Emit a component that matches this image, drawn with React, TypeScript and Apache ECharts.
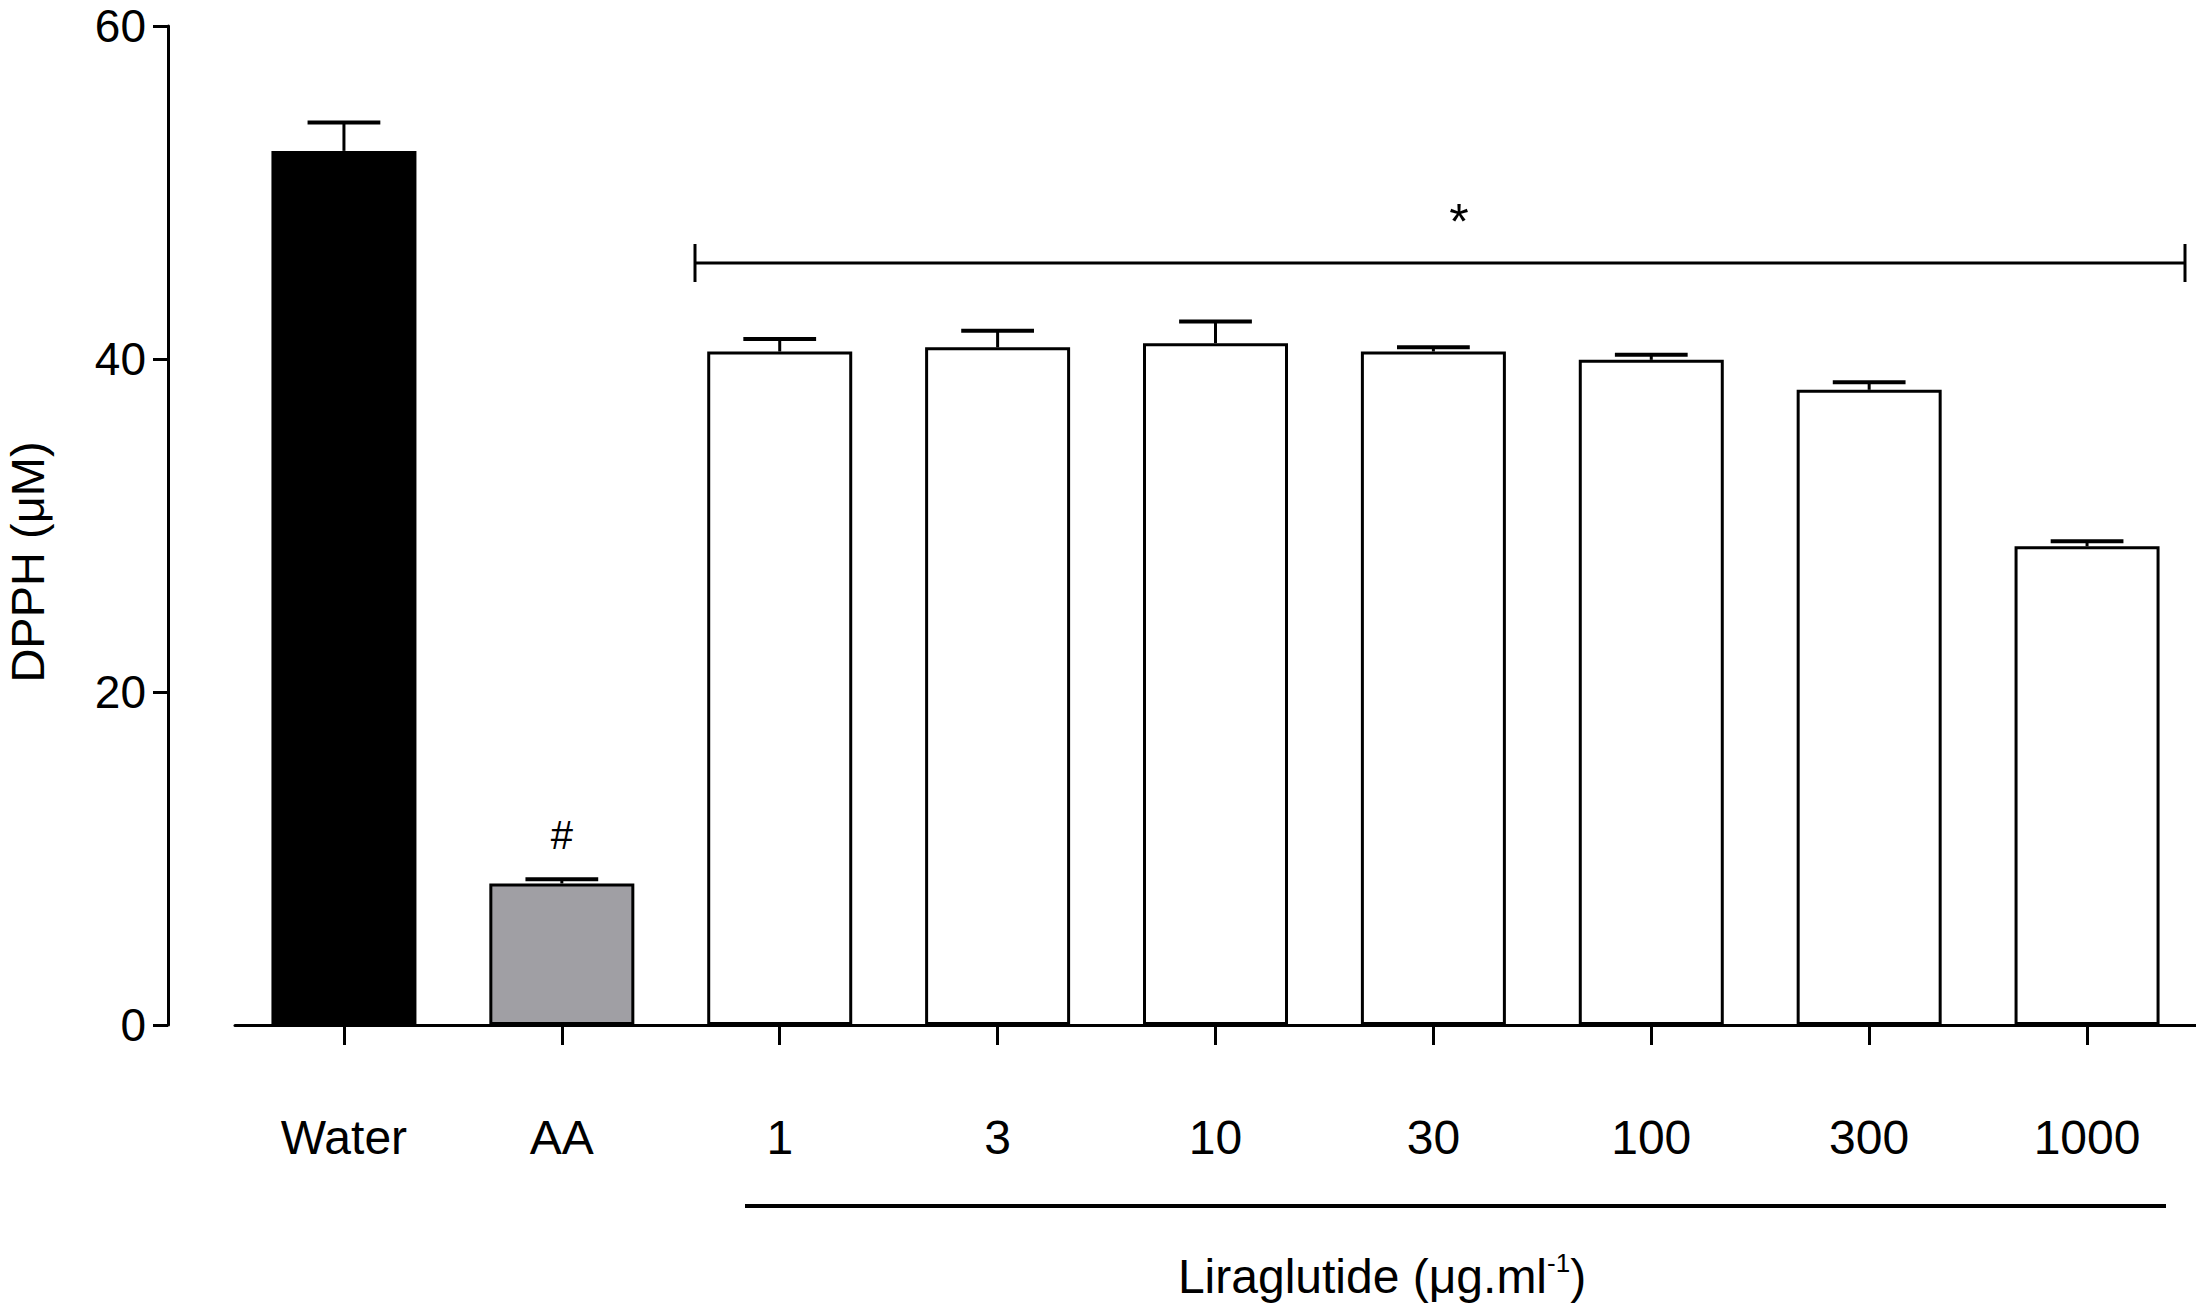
import React, { useEffect, useRef } from "react";
import * as echarts from "echarts";

const categories = ["Water", "AA", "1", "3", "10", "30", "100", "300", "1000"];
const means = [52.5, 8.5, 40.45, 40.7, 40.95, 40.45, 39.95, 38.15, 28.75];
const sems = [1.7, 0.25, 0.75, 1.0, 1.3, 0.25, 0.3, 0.45, 0.3];
const fills = ["#000000", "#a09fa4", "#ffffff", "#ffffff", "#ffffff", "#ffffff", "#ffffff", "#ffffff", "#ffffff"];
const barMarks = ["", "#", "", "", "", "", "", "", ""];
const yMin = 0;
const yMax = 60;
const yStep = 20;
const yTitle = "DPPH (μM)";
const groupTitleMain = "Liraglutide (μg.ml";
const groupTitleSup = "-1";
const sigMark = "*";

const FONT = "'Liberation Sans', Arial, Helvetica, sans-serif";

export default function App() {
  const ref = useRef<HTMLDivElement>(null);

  useEffect(() => {
    if (!ref.current) return;
    const chart = echarts.init(ref.current, null, { renderer: "svg" });

    const barData = means.map((m, i) => ({
      value: m,
      itemStyle: { color: fills[i], borderColor: "#000", borderWidth: 3 },
      label: barMarks[i]
        ? {
            show: true,
            position: "top",
            distance: 28,
            formatter: barMarks[i],
            fontSize: 40,
            color: "#000",
            fontFamily: FONT,
          }
        : { show: false },
    }));

    const errData = means.map((m, i) => [i, m, sems[i]]);

    const option: any = {
      animation: false,
      backgroundColor: "#ffffff",
      grid: { left: 235, right: -7, top: 26, bottom: 278 },
      xAxis: {
        type: "category",
        data: categories,
        offset: 63,
        axisLine: { show: true, lineStyle: { color: "#000", width: 3 } },
        axisTick: { show: true, alignWithLabel: true, length: 20, lineStyle: { color: "#000", width: 3 } },
        axisLabel: { fontSize: 48, color: "#000", margin: 25, fontFamily: FONT },
        splitLine: { show: false },
      },
      yAxis: {
        type: "value",
        min: yMin,
        max: yMax,
        interval: yStep,
        offset: 67,
        axisLine: { show: true, lineStyle: { color: "#000", width: 3 } },
        axisTick: { show: true, length: 15, lineStyle: { color: "#000", width: 3 } },
        axisLabel: { fontSize: 46, lineHeight: 40, color: "#000", margin: 22, fontFamily: FONT },
        splitLine: { show: false },
      },
      series: [
        {
          type: "bar",
          data: barData,
          barWidth: 145,
          z: 2,
        },
        {
          type: "custom",
          z: 3,
          data: errData,
          renderItem: (params: any, api: any) => {
            const i = api.value(0);
            const m = api.value(1);
            const s = api.value(2);
            const base = api.coord([i, m]);
            const top = api.coord([i, m + s]);
            const band = api.size([1, 0])[0];
            const half = band * 0.167;
            return {
              type: "group",
              children: [
                {
                  type: "line",
                  shape: { x1: top[0], y1: base[1], x2: top[0], y2: top[1] },
                  style: { stroke: "#000", lineWidth: 3 },
                },
                {
                  type: "line",
                  shape: { x1: top[0] - half, y1: top[1], x2: top[0] + half, y2: top[1] },
                  style: { stroke: "#000", lineWidth: 4 },
                },
              ],
            };
          },
        },
      ],
      graphic: [
        // y axis title
        {
          type: "text",
          x: 27,
          y: 562,
          rotation: Math.PI / 2,
          style: {
            text: yTitle,
            fontSize: 47,
            fontFamily: FONT,
            fill: "#000",
            textAlign: "center",
            textVerticalAlign: "middle",
          },
        },
        // significance bracket
        {
          type: "line",
          shape: { x1: 695, y1: 263, x2: 2185, y2: 263 },
          style: { stroke: "#000", lineWidth: 3 },
        },
        {
          type: "line",
          shape: { x1: 695, y1: 244, x2: 695, y2: 282 },
          style: { stroke: "#000", lineWidth: 3 },
        },
        {
          type: "line",
          shape: { x1: 2185, y1: 244, x2: 2185, y2: 282 },
          style: { stroke: "#000", lineWidth: 3 },
        },
        {
          type: "text",
          x: 1459,
          y: 222,
          style: {
            text: sigMark,
            fontSize: 50,
            fontFamily: FONT,
            fill: "#000",
            textAlign: "center",
            textVerticalAlign: "middle",
          },
        },
        // group line
        {
          type: "line",
          shape: { x1: 745, y1: 1206, x2: 2166, y2: 1206 },
          style: { stroke: "#000", lineWidth: 4 },
        },
        {
          type: "text",
          x: 1382,
          y: 1273,
          style: {
            text: `{a|${groupTitleMain}}{s|${groupTitleSup}}{a|)}`,
            textAlign: "center",
            textVerticalAlign: "middle",
            rich: {
              a: { fontSize: 48, fontFamily: FONT, fill: "#000", lineHeight: 54, verticalAlign: "bottom" },
              s: { fontSize: 26, fontFamily: FONT, fill: "#000", lineHeight: 54, verticalAlign: "top", padding: [4, 0, 0, 0] },
            },
          },
        },
      ],
    };

    chart.setOption(option);
    return () => chart.dispose();
  }, []);

  return (
    <div
      ref={ref}
      style={{ position: "fixed", left: 0, top: 0, width: 2196, height: 1303, background: "#fff" }}
    />
  );
}
